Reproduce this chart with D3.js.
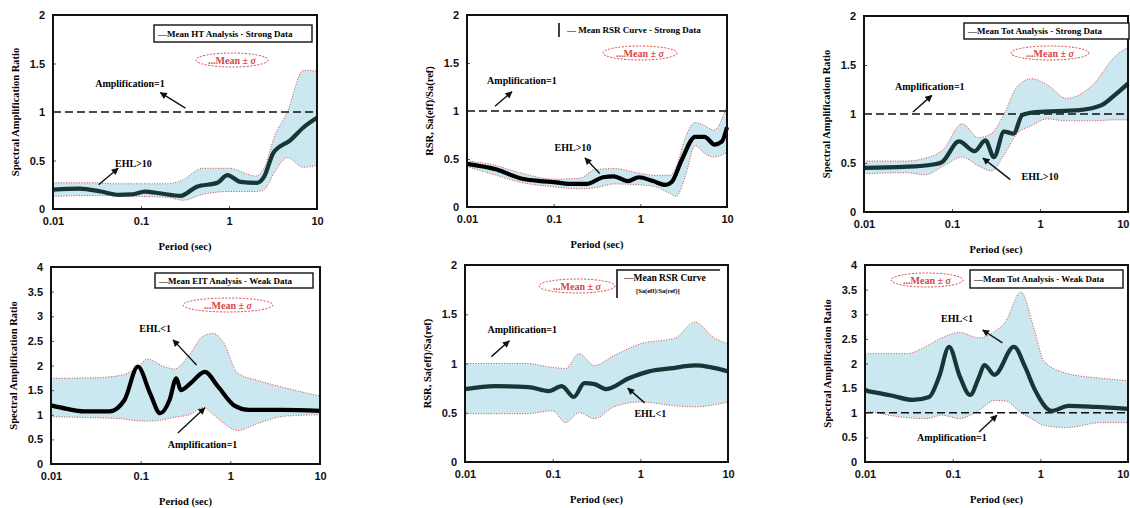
<!DOCTYPE html>
<html>
<head>
<meta charset="utf-8">
<script src="https://cdn.jsdelivr.net/npm/d3@7"></script>
<style>
  body { margin: 0; background: #fff; }
  svg { display: block; font-family: "Liberation Serif", "Times New Roman", serif; font-weight: bold; }
</style>
</head>
<body>
<svg id="chart" width="1130" height="508"></svg>
<script>
// ---- data (period in sec, ratio) ----
const periodTicks = [0.01, 0.1, 1, 10];
const periodLabels = ['0.01', '0.1', '1', '10'];

// panel 1 : HT analysis, strong data
const p1MeanT = [0.01, 0.02, 0.035, 0.055, 0.08, 0.11, 0.17, 0.28, 0.43, 0.74, 0.96, 1.35, 2.1, 2.5, 3.2, 5, 7, 10];
const p1Mean  = [0.2, 0.21, 0.18, 0.145, 0.15, 0.18, 0.16, 0.135, 0.23, 0.27, 0.35, 0.28, 0.27, 0.33, 0.58, 0.71, 0.84, 0.94];
const p1BandT = [0.01, 0.03, 0.05, 0.1, 0.2, 0.3, 0.5, 1, 2, 2.5, 3.3, 4.6, 7, 10];
const p1Upper = [0.27, 0.27, 0.26, 0.26, 0.26, 0.3, 0.42, 0.42, 0.34, 0.42, 0.75, 1.0, 1.43, 1.42];
const p1Lower = [0.13, 0.14, 0.14, 0.13, 0.12, 0.09, 0.15, 0.18, 0.18, 0.2, 0.38, 0.53, 0.43, 0.45];

// panel 2 : RSR, strong data
const p2MeanT = [0.01, 0.022, 0.041, 0.07, 0.1, 0.155, 0.24, 0.37, 0.49, 0.72, 0.96, 1.4, 1.95, 2.3, 3.0, 4.3, 5.5, 7.2, 8.7, 10];
const p2Mean  = [0.45, 0.39, 0.3, 0.27, 0.26, 0.24, 0.24, 0.31, 0.32, 0.27, 0.31, 0.27, 0.23, 0.26, 0.49, 0.73, 0.73, 0.65, 0.68, 0.83];
const p2BandT = [0.01, 0.02, 0.04, 0.1, 0.2, 0.3, 0.5, 1, 1.5, 2.2, 2.6, 3.3, 4.3, 5.5, 7, 10];
const p2Upper = [0.48, 0.44, 0.36, 0.29, 0.3, 0.39, 0.4, 0.35, 0.33, 0.33, 0.42, 0.72, 0.88, 0.85, 0.8, 1.05];
const p2Lower = [0.42, 0.34, 0.26, 0.21, 0.19, 0.2, 0.24, 0.23, 0.21, 0.14, 0.11, 0.32, 0.64, 0.56, 0.52, 0.57];

// panel 3 : Tot analysis, strong data
const p3MeanT = [0.01, 0.028, 0.056, 0.077, 0.12, 0.18, 0.24, 0.3, 0.39, 0.5, 0.63, 0.9, 2.8, 5, 7, 10];
const p3Mean  = [0.45, 0.46, 0.48, 0.51, 0.72, 0.62, 0.73, 0.56, 0.82, 0.8, 0.99, 1.02, 1.04, 1.09, 1.19, 1.31];
const p3BandT = [0.01, 0.03, 0.05, 0.08, 0.13, 0.2, 0.28, 0.4, 0.55, 0.8, 1.2, 2, 4, 7, 10];
const p3Upper = [0.52, 0.52, 0.55, 0.64, 0.9, 0.76, 0.8, 1.02, 1.28, 1.36, 1.3, 1.16, 1.3, 1.58, 1.68];
const p3Lower = [0.39, 0.4, 0.38, 0.47, 0.56, 0.47, 0.42, 0.6, 0.8, 0.88, 0.95, 0.93, 0.93, 0.94, 0.94];

// panel 4 : HT analysis, weak data
const p4MeanT = [0.01, 0.015, 0.023, 0.045, 0.066, 0.093, 0.127, 0.165, 0.21, 0.25, 0.28, 0.36, 0.52, 0.73, 1.12, 1.6, 3.7, 10];
const p4Mean  = [1.19, 1.12, 1.07, 1.07, 1.3, 1.98, 1.44, 1.03, 1.3, 1.74, 1.5, 1.64, 1.87, 1.57, 1.18, 1.1, 1.1, 1.08];
const p4BandT = [0.01, 0.03, 0.06, 0.09, 0.12, 0.18, 0.24, 0.35, 0.5, 0.65, 0.85, 1.2, 2, 4, 10];
const p4Upper = [1.74, 1.75, 1.8, 1.95, 2.13, 1.98, 1.93, 2.22, 2.6, 2.65, 2.45, 1.85, 1.7, 1.55, 1.38];
const p4Lower = [0.96, 0.94, 0.92, 0.88, 0.87, 0.9, 0.95, 1.0, 1.15, 1.0, 0.82, 0.68, 0.82, 0.97, 1.0];

// panel 5 : RSR, weak data
const p5MeanT = [0.01, 0.022, 0.053, 0.09, 0.127, 0.174, 0.23, 0.3, 0.41, 0.74, 1.26, 2.2, 4.2, 10];
const p5Mean  = [0.74, 0.77, 0.76, 0.72, 0.77, 0.66, 0.8, 0.79, 0.74, 0.85, 0.92, 0.95, 0.98, 0.92];
const p5BandT = [0.01, 0.05, 0.1, 0.14, 0.2, 0.3, 0.5, 1, 2.5, 4.2, 7, 10];
const p5Upper = [1.0, 1.0, 0.96, 0.95, 1.1, 0.98, 1.08, 1.2, 1.26, 1.42, 1.26, 1.2];
const p5Lower = [0.49, 0.49, 0.52, 0.4, 0.5, 0.44, 0.56, 0.61, 0.57, 0.56, 0.58, 0.61];

// panel 6 : Tot analysis, weak data
const p6MeanT = [0.01, 0.02, 0.035, 0.054, 0.07, 0.091, 0.12, 0.158, 0.2, 0.23, 0.3, 0.5, 0.67, 0.87, 1.35, 2.1, 4.2, 10];
const p6Mean  = [1.45, 1.35, 1.26, 1.32, 1.73, 2.34, 1.75, 1.36, 1.73, 1.97, 1.77, 2.34, 1.93, 1.46, 1.04, 1.14, 1.12, 1.08];
const p6BandT = [0.01, 0.03, 0.05, 0.075, 0.12, 0.2, 0.3, 0.4, 0.6, 0.85, 1.1, 2, 5, 10];
const p6Upper = [2.2, 2.2, 2.35, 2.52, 2.63, 2.52, 2.65, 2.85, 3.45, 2.7, 2.05, 1.8, 1.7, 1.65];
const p6Lower = [1.05, 0.9, 0.88, 0.95, 0.88, 1.05, 1.25, 1.24, 1.0, 0.85, 0.74, 0.7, 0.8, 0.8];

const svg = d3.select('#chart');
const W = +svg.attr('width');
const bandFill = '#cbe7f0';
const sigmaRed = '#d8464a';

svg.append('defs').append('marker')
    .attr('id', 'arrow')
    .attr('viewBox', '0 0 10 10')
    .attr('refX', 9).attr('refY', 5)
    .attr('markerUnits', 'userSpaceOnUse')
    .attr('markerWidth', 8).attr('markerHeight', 7)
    .attr('orient', 'auto')
    .append('path')
    .attr('d', 'M0,0L10,5L0,10z')
    .attr('fill', '#111');

const panels = [
    { left: 53, right: 317, top: 15, bottom: 209, yMax: 2, ampLine: true,
      meanT: p1MeanT, mean: p1Mean, bandT: p1BandT, upper: p1Upper, lower: p1Lower, meanColor: '#173636',
      yTitle: 'Spectral Amplification Ratio',
      legend: { kind: 'box', x: 101, y: 10, w: 158, h: 17, text: '\u2014Mean HT Analysis - Strong Data' },
      sigma: { cx: 179, cy: 45, rx: 36 },
      notes: [
          { text: 'Amplification=1', t: 0.075, v: 1.29, from: [0.32, 1.04], to: [0.166, 1.2] },
          { text: 'EHL>10', t: 0.082, v: 0.47, from: [0.033, 0.25], to: [0.055, 0.42] },
      ] },
    { left: 467, right: 727, top: 15, bottom: 207, yMax: 2, ampLine: true,
      meanT: p2MeanT, mean: p2Mean, bandT: p2BandT, upper: p2Upper, lower: p2Lower, meanColor: '#000',
      yTitle: 'RSR, Sa(eff)/Sa(ref)',
      legend: { kind: 'bar', x: 92, y: 8, h: 14, text: '\u2014 Mean RSR Curve - Strong Data' },
      sigma: { cx: 173, cy: 38, rx: 37 },
      notes: [
          { text: 'Amplification=1', t: 0.043, v: 1.32, from: [0.021, 1.05], to: [0.033, 1.2] },
          { text: 'EHL>10', t: 0.167, v: 0.625, from: [0.34, 0.35], to: [0.23, 0.51] },
      ] },
    { left: 864, right: 1128, top: 16, bottom: 212, yMax: 2, ampLine: true,
      meanT: p3MeanT, mean: p3Mean, bandT: p3BandT, upper: p3Upper, lower: p3Lower, meanColor: '#173636',
      yTitle: 'Spectral Amplification Ratio',
      legend: { kind: 'box', x: 100, y: 7, w: 165, h: 16, text: '\u2014Mean Tot Analysis - Strong Data' },
      sigma: { cx: 186, cy: 37, rx: 39 },
      notes: [
          { text: 'Amplification=1', t: 0.056, v: 1.28, from: [0.036, 1.02], to: [0.059, 1.19] },
          { text: 'EHL>10', t: 1.0, v: 0.36, from: [0.46, 0.33], to: [0.225, 0.55] },
      ] },
    { left: 51, right: 320, top: 267, bottom: 464, yMax: 4, ampLine: false,
      meanT: p4MeanT, mean: p4Mean, bandT: p4BandT, upper: p4Upper, lower: p4Lower, meanColor: '#000',
      yTitle: 'Spectral Amplification Ratio',
      legend: { kind: 'box', x: 104, y: 6, w: 158, h: 15, text: '\u2014Mean EIT Analysis - Weak Data' },
      sigma: { cx: 177, cy: 38, rx: 45 },
      notes: [
          { text: 'EHL<1', t: 0.145, v: 2.76, from: [0.42, 2.01], to: [0.23, 2.52] },
          { text: 'Amplification=1', t: 0.49, v: 0.39, from: [0.26, 0.63], to: [0.52, 1.14] },
      ] },
    { left: 465, right: 728, top: 265, bottom: 462, yMax: 2, ampLine: false,
      meanT: p5MeanT, mean: p5Mean, bandT: p5BandT, upper: p5Upper, lower: p5Lower, meanColor: '#173636',
      yTitle: 'RSR, Sa(eff)/Sa(ref)',
      legend: { kind: 'corner', x: 152, y: 5, w: 103, h: 28, text: '\u2014Mean RSR Curve', sub: '[Sa(eff)/Sa(ref)]' },
      sigma: { cx: 112, cy: 21, rx: 38 },
      notes: [
          { text: 'Amplification=1', t: 0.045, v: 1.35, from: [0.02, 1.07], to: [0.032, 1.23] },
          { text: 'EHL<1', t: 1.3, v: 0.49, from: [1.12, 0.6], to: [0.72, 0.75] },
      ] },
    { left: 865, right: 1128, top: 265, bottom: 462, yMax: 4, ampLine: true,
      meanT: p6MeanT, mean: p6Mean, bandT: p6BandT, upper: p6Upper, lower: p6Lower, meanColor: '#173636',
      yTitle: 'Spectral Amplification Ratio',
      legend: { kind: 'box', x: 105, y: 5, w: 153, h: 18, text: '\u2014Mean Tot Analysis - Weak Data' },
      sigma: { cx: 62, cy: 15, rx: 36 },
      notes: [
          { text: 'EHL<1', t: 0.112, v: 2.92, from: [0.37, 2.42], to: [0.22, 2.68] },
          { text: 'Amplification=1', t: 0.098, v: 0.49, from: [0.2, 0.61], to: [0.32, 0.95] },
      ] },
];

panels.forEach(drawPanel);

function drawPanel(cfg) {
    const g = svg.append('g');
    const x = d3.scaleLog().domain([0.01, 10]).range([cfg.left, cfg.right]);
    const y = d3.scaleLinear().domain([0, cfg.yMax]).range([cfg.bottom, cfg.top]);
    const band = cfg.bandT.map((t, i) => ({ t, lo: cfg.lower[i], hi: cfg.upper[i] }));
    const mean = cfg.meanT.map((t, i) => ({ t, v: cfg.mean[i] }));
    const curve = d3.curveMonotoneX;

    g.append('rect')
        .attr('x', cfg.left).attr('y', cfg.top)
        .attr('width', cfg.right - cfg.left).attr('height', cfg.bottom - cfg.top)
        .attr('fill', '#fff');

    g.append('path').datum(band)
        .attr('d', d3.area().x(d => x(d.t)).y0(d => y(d.lo)).y1(d => y(d.hi)).curve(curve))
        .attr('fill', bandFill);
    ['hi', 'lo'].forEach(k => {
        g.append('path').datum(band)
            .attr('d', d3.line().x(d => x(d.t)).y(d => y(d[k])).curve(curve))
            .attr('fill', 'none')
            .attr('stroke', sigmaRed)
            .attr('stroke-width', 1)
            .attr('stroke-dasharray', '1,1.6');
    });

    // amplification = 1
    if (cfg.ampLine) {
        g.append('line')
            .attr('x1', x(0.01)).attr('x2', x(10))
            .attr('y1', y(1)).attr('y2', y(1))
            .attr('stroke', '#111')
            .attr('stroke-width', 1.5)
            .attr('stroke-dasharray', '8,4');
    }

    g.append('path').datum(mean)
        .attr('d', d3.line().x(d => x(d.t)).y(d => y(d.v)).curve(curve))
        .attr('fill', 'none')
        .attr('stroke', cfg.meanColor)
        .attr('stroke-width', 4.2)
        .attr('stroke-linejoin', 'round');

    // axes
    const xAxis = g.append('g')
        .attr('transform', `translate(0,${cfg.bottom})`)
        .call(d3.axisBottom(x).tickValues(periodTicks).tickFormat((d, i) => periodLabels[i]).tickSize(-3).tickPadding(8));
    const yAxis = g.append('g')
        .attr('transform', `translate(${cfg.left},0)`)
        .call(d3.axisLeft(y).tickValues(d3.range(0, cfg.yMax + 0.01, 0.5)).tickFormat(d3.format('~g')).tickSize(-3).tickPadding(8));
    [xAxis, yAxis].forEach(a => {
        a.select('.domain').remove();
        a.selectAll('line').attr('stroke', '#555');
        a.selectAll('text').attr('font-size', 11).attr('font-family', null).attr('fill', '#111');
    });
    // keep the last period label inside the page
    if (cfg.right > W - 12) {
        xAxis.selectAll('.tick').filter(d => d === 10).select('text')
            .attr('text-anchor', 'end').attr('x', W - 1 - cfg.right);
    }

    g.append('rect')
        .attr('x', cfg.left).attr('y', cfg.top)
        .attr('width', cfg.right - cfg.left).attr('height', cfg.bottom - cfg.top)
        .attr('fill', 'none')
        .attr('stroke', '#111')
        .attr('stroke-width', 2);

    g.append('text')
        .attr('x', (cfg.left + cfg.right) / 2).attr('y', cfg.bottom + 41)
        .attr('text-anchor', 'middle')
        .attr('font-size', 10.5)
        .text('Period (sec)');
    g.append('text')
        .attr('transform', `translate(${cfg.left - 34},${(cfg.top + cfg.bottom) / 2}) rotate(-90)`)
        .attr('text-anchor', 'middle')
        .attr('font-size', 10.5)
        .text(cfg.yTitle);

    // annotations
    cfg.notes.forEach(n => {
        g.append('text')
            .attr('x', x(n.t)).attr('y', y(n.v))
            .attr('dy', '0.35em')
            .attr('text-anchor', 'middle')
            .attr('font-size', 10)
            .text(n.text);
        g.append('line')
            .attr('x1', x(n.from[0])).attr('y1', y(n.from[1]))
            .attr('x2', x(n.to[0])).attr('y2', y(n.to[1]))
            .attr('stroke', '#111')
            .attr('stroke-width', 1.4)
            .attr('marker-end', 'url(#arrow)');
    });

    // legend
    const L = cfg.legend;
    const lx = cfg.left + L.x, ly = cfg.top + L.y;
    if (L.kind === 'box') {
        g.append('rect').attr('x', lx).attr('y', ly).attr('width', L.w).attr('height', L.h)
            .attr('fill', '#fff').attr('stroke', '#111').attr('stroke-width', 1.4);
        g.append('text').attr('x', lx + 4).attr('y', ly + L.h / 2).attr('dy', '0.35em')
            .attr('font-size', 9).text(L.text);
    } else if (L.kind === 'bar') {
        g.append('line').attr('x1', lx).attr('x2', lx).attr('y1', ly).attr('y2', ly + L.h)
            .attr('stroke', '#111').attr('stroke-width', 1.6);
        g.append('text').attr('x', lx + 8).attr('y', ly + L.h / 2).attr('dy', '0.35em')
            .attr('font-size', 9).text(L.text);
    } else {
        g.append('path').attr('d', `M${lx},${ly + L.h}V${ly}H${lx + L.w}`)
            .attr('fill', 'none').attr('stroke', '#111').attr('stroke-width', 1.6);
        g.append('text').attr('x', lx + 7).attr('y', ly + 11)
            .attr('font-size', 9.5).text(L.text);
        g.append('text').attr('x', lx + 19).attr('y', ly + 23)
            .attr('font-size', 6.5).text(L.sub);
    }

    const S = cfg.sigma;
    g.append('ellipse')
        .attr('cx', cfg.left + S.cx).attr('cy', cfg.top + S.cy)
        .attr('rx', S.rx).attr('ry', 7)
        .attr('fill', '#fff')
        .attr('stroke', sigmaRed)
        .attr('stroke-width', 1)
        .attr('stroke-dasharray', '2,1.5');
    const st = g.append('text')
        .attr('x', cfg.left + S.cx).attr('y', cfg.top + S.cy)
        .attr('dy', '0.35em')
        .attr('text-anchor', 'middle')
        .attr('font-size', 10)
        .attr('fill', sigmaRed);
    st.append('tspan').text('...Mean \u00b1 ');
    st.append('tspan').attr('font-style', 'italic').text('\u03c3');
}
</script>
</body>
</html>
